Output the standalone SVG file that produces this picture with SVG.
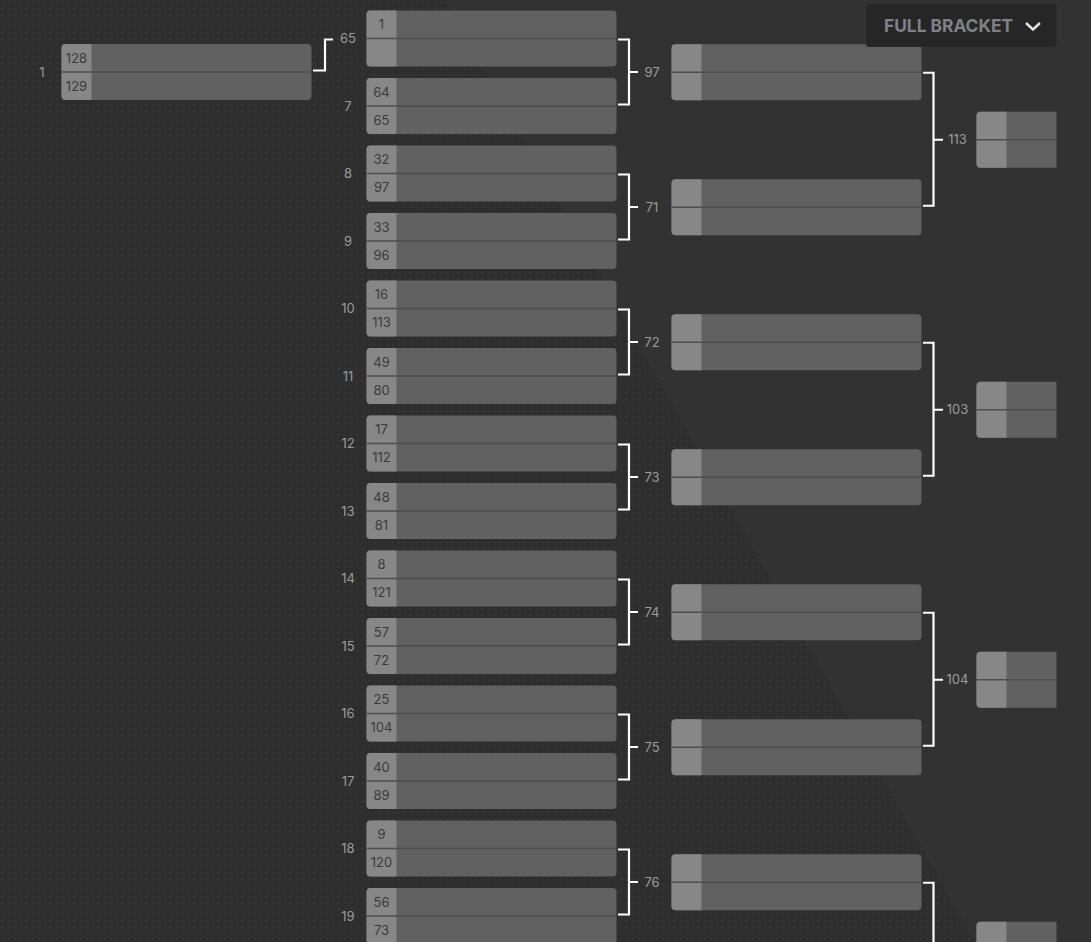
<svg xmlns="http://www.w3.org/2000/svg" xmlns:xlink="http://www.w3.org/1999/xlink" width="1091" height="942" viewBox="0 0 1091 942">
<style>
.seed{font-family:Inter,"Liberation Sans",sans-serif;font-size:13px;fill:#3b3b3b;text-anchor:middle}
.lbl{font-family:Inter,"Liberation Sans",sans-serif;font-size:13px;fill:#9b9b9b;text-anchor:middle}
.con{fill:none;stroke:#ffffff;stroke-width:2.2}
.btn{font-family:Inter,"Liberation Sans",sans-serif;font-size:18px;font-weight:700;fill:#7e8186}
</style>
<defs>
<pattern id="dots" x="0" y="0" width="6" height="6" patternUnits="userSpaceOnUse">
<rect width="6" height="6" fill="#2e2e2e"/>
<rect x="2" y="2" width="1.5" height="1.5" fill="#393939"/>
</pattern>
<g id="box">
<rect width="250" height="56" rx="4" fill="#616161"/>
<path d="M4,0 H30 V56 H4 A4,4 0 0 1 0,52 V4 A4,4 0 0 1 4,0 Z" fill="#878787"/>
<rect x="0" y="27.25" width="250" height="1.5" fill="#4e4e4e"/>
</g>
<clipPath id="clipR"><rect x="0" y="0" width="1056.5" height="942"/></clipPath>
</defs>
<rect width="1091" height="942" fill="#323232"/>
<polygon points="0,0 445,0 975,942 0,942" fill="url(#dots)"/>

<g id="connectors">
<path class="con" d="M313,70.5 H325 V39.5 H333"/>
<path class="con" d="M618,39.5 H629 V104.5 H618 M629,72 H638"/>
<path class="con" d="M618,174.5 H629 V239.5 H618 M629,207 H638"/>
<path class="con" d="M618,309.5 H629 V374.5 H618 M629,342 H638"/>
<path class="con" d="M618,444.5 H629 V509.5 H618 M629,477 H638"/>
<path class="con" d="M618,579.5 H629 V644.5 H618 M629,612 H638"/>
<path class="con" d="M618,714.5 H629 V779.5 H618 M629,747 H638"/>
<path class="con" d="M618,849.5 H629 V914.5 H618 M629,882 H638"/>
<path class="con" d="M923,72.75 H933.5 V205.75 H923 M933.5,139.75 H943"/>
<path class="con" d="M923,342.75 H933.5 V475.75 H923 M933.5,409.75 H943"/>
<path class="con" d="M923,612.75 H933.5 V745.75 H923 M933.5,679.75 H943"/>
<path class="con" d="M923,882.75 H933.5 V945"/>
</g>

<g id="m1">
<use xlink:href="#box" x="61.5" y="44"/>
<text class="seed" x="76.5" y="62.5">128</text>
<text class="seed" x="76.5" y="90.5">129</text>
<text class="lbl" x="42" y="76.5">1</text>
</g>

<g id="m65"><use xlink:href="#box" x="366.5" y="10.5"/><text class="seed" x="381.5" y="29">1</text><text class="lbl" x="348" y="43">65</text></g>
<g id="m7"><use xlink:href="#box" x="366.5" y="78"/><text class="seed" x="381.5" y="96.5">64</text><text class="seed" x="381.5" y="124.5">65</text><text class="lbl" x="348" y="110.5">7</text></g>
<g id="m8"><use xlink:href="#box" x="366.5" y="145.5"/><text class="seed" x="381.5" y="164">32</text><text class="seed" x="381.5" y="192">97</text><text class="lbl" x="348" y="178">8</text></g>
<g id="m9"><use xlink:href="#box" x="366.5" y="213"/><text class="seed" x="381.5" y="231.5">33</text><text class="seed" x="381.5" y="259.5">96</text><text class="lbl" x="348" y="245.5">9</text></g>
<g id="m10"><use xlink:href="#box" x="366.5" y="280.5"/><text class="seed" x="381.5" y="299">16</text><text class="seed" x="381.5" y="327">113</text><text class="lbl" x="348" y="313">10</text></g>
<g id="m11"><use xlink:href="#box" x="366.5" y="348"/><text class="seed" x="381.5" y="366.5">49</text><text class="seed" x="381.5" y="394.5">80</text><text class="lbl" x="348" y="380.5">11</text></g>
<g id="m12"><use xlink:href="#box" x="366.5" y="415.5"/><text class="seed" x="381.5" y="434">17</text><text class="seed" x="381.5" y="462">112</text><text class="lbl" x="348" y="448">12</text></g>
<g id="m13"><use xlink:href="#box" x="366.5" y="483"/><text class="seed" x="381.5" y="501.5">48</text><text class="seed" x="381.5" y="529.5">81</text><text class="lbl" x="348" y="515.5">13</text></g>
<g id="m14"><use xlink:href="#box" x="366.5" y="550.5"/><text class="seed" x="381.5" y="569">8</text><text class="seed" x="381.5" y="597">121</text><text class="lbl" x="348" y="583">14</text></g>
<g id="m15"><use xlink:href="#box" x="366.5" y="618"/><text class="seed" x="381.5" y="636.5">57</text><text class="seed" x="381.5" y="664.5">72</text><text class="lbl" x="348" y="650.5">15</text></g>
<g id="m16"><use xlink:href="#box" x="366.5" y="685.5"/><text class="seed" x="381.5" y="704">25</text><text class="seed" x="381.5" y="732">104</text><text class="lbl" x="348" y="718">16</text></g>
<g id="m17"><use xlink:href="#box" x="366.5" y="753"/><text class="seed" x="381.5" y="771.5">40</text><text class="seed" x="381.5" y="799.5">89</text><text class="lbl" x="348" y="785.5">17</text></g>
<g id="m18"><use xlink:href="#box" x="366.5" y="820.5"/><text class="seed" x="381.5" y="839">9</text><text class="seed" x="381.5" y="867">120</text><text class="lbl" x="348" y="853">18</text></g>
<g id="m19"><use xlink:href="#box" x="366.5" y="888"/><text class="seed" x="381.5" y="906.5">56</text><text class="seed" x="381.5" y="934.5">73</text><text class="lbl" x="348" y="920.5">19</text></g>

<g id="m97"><use xlink:href="#box" x="671.5" y="44.25"/><text class="lbl" x="652" y="76.75">97</text></g>
<g id="m71"><use xlink:href="#box" x="671.5" y="179.25"/><text class="lbl" x="652" y="211.75">71</text></g>
<g id="m72"><use xlink:href="#box" x="671.5" y="314.25"/><text class="lbl" x="652" y="346.75">72</text></g>
<g id="m73"><use xlink:href="#box" x="671.5" y="449.25"/><text class="lbl" x="652" y="481.75">73</text></g>
<g id="m74"><use xlink:href="#box" x="671.5" y="584.25"/><text class="lbl" x="652" y="616.75">74</text></g>
<g id="m75"><use xlink:href="#box" x="671.5" y="719.25"/><text class="lbl" x="652" y="751.75">75</text></g>
<g id="m76"><use xlink:href="#box" x="671.5" y="854.25"/><text class="lbl" x="652" y="886.75">76</text></g>

<g clip-path="url(#clipR)">
<g id="m113"><use xlink:href="#box" x="976.5" y="111.75"/><text class="lbl" x="957.5" y="144.25">113</text></g>
<g id="m103"><use xlink:href="#box" x="976.5" y="381.75"/><text class="lbl" x="957.5" y="414.25">103</text></g>
<g id="m104"><use xlink:href="#box" x="976.5" y="651.75"/><text class="lbl" x="957.5" y="684.25">104</text></g>
<g id="m_next"><use xlink:href="#box" x="976.5" y="921.75"/></g>
</g>

<g id="full-bracket-button">
<rect x="866" y="4" width="190.5" height="43" rx="3" fill="#262626"/>
<text class="btn" x="884" y="32.3" textLength="129" lengthAdjust="spacingAndGlyphs">FULL BRACKET</text>
<polyline points="1026,23 1033,29.5 1040,23" fill="none" stroke="#e2e2e2" stroke-width="2.5"/>
</g>
</svg>
